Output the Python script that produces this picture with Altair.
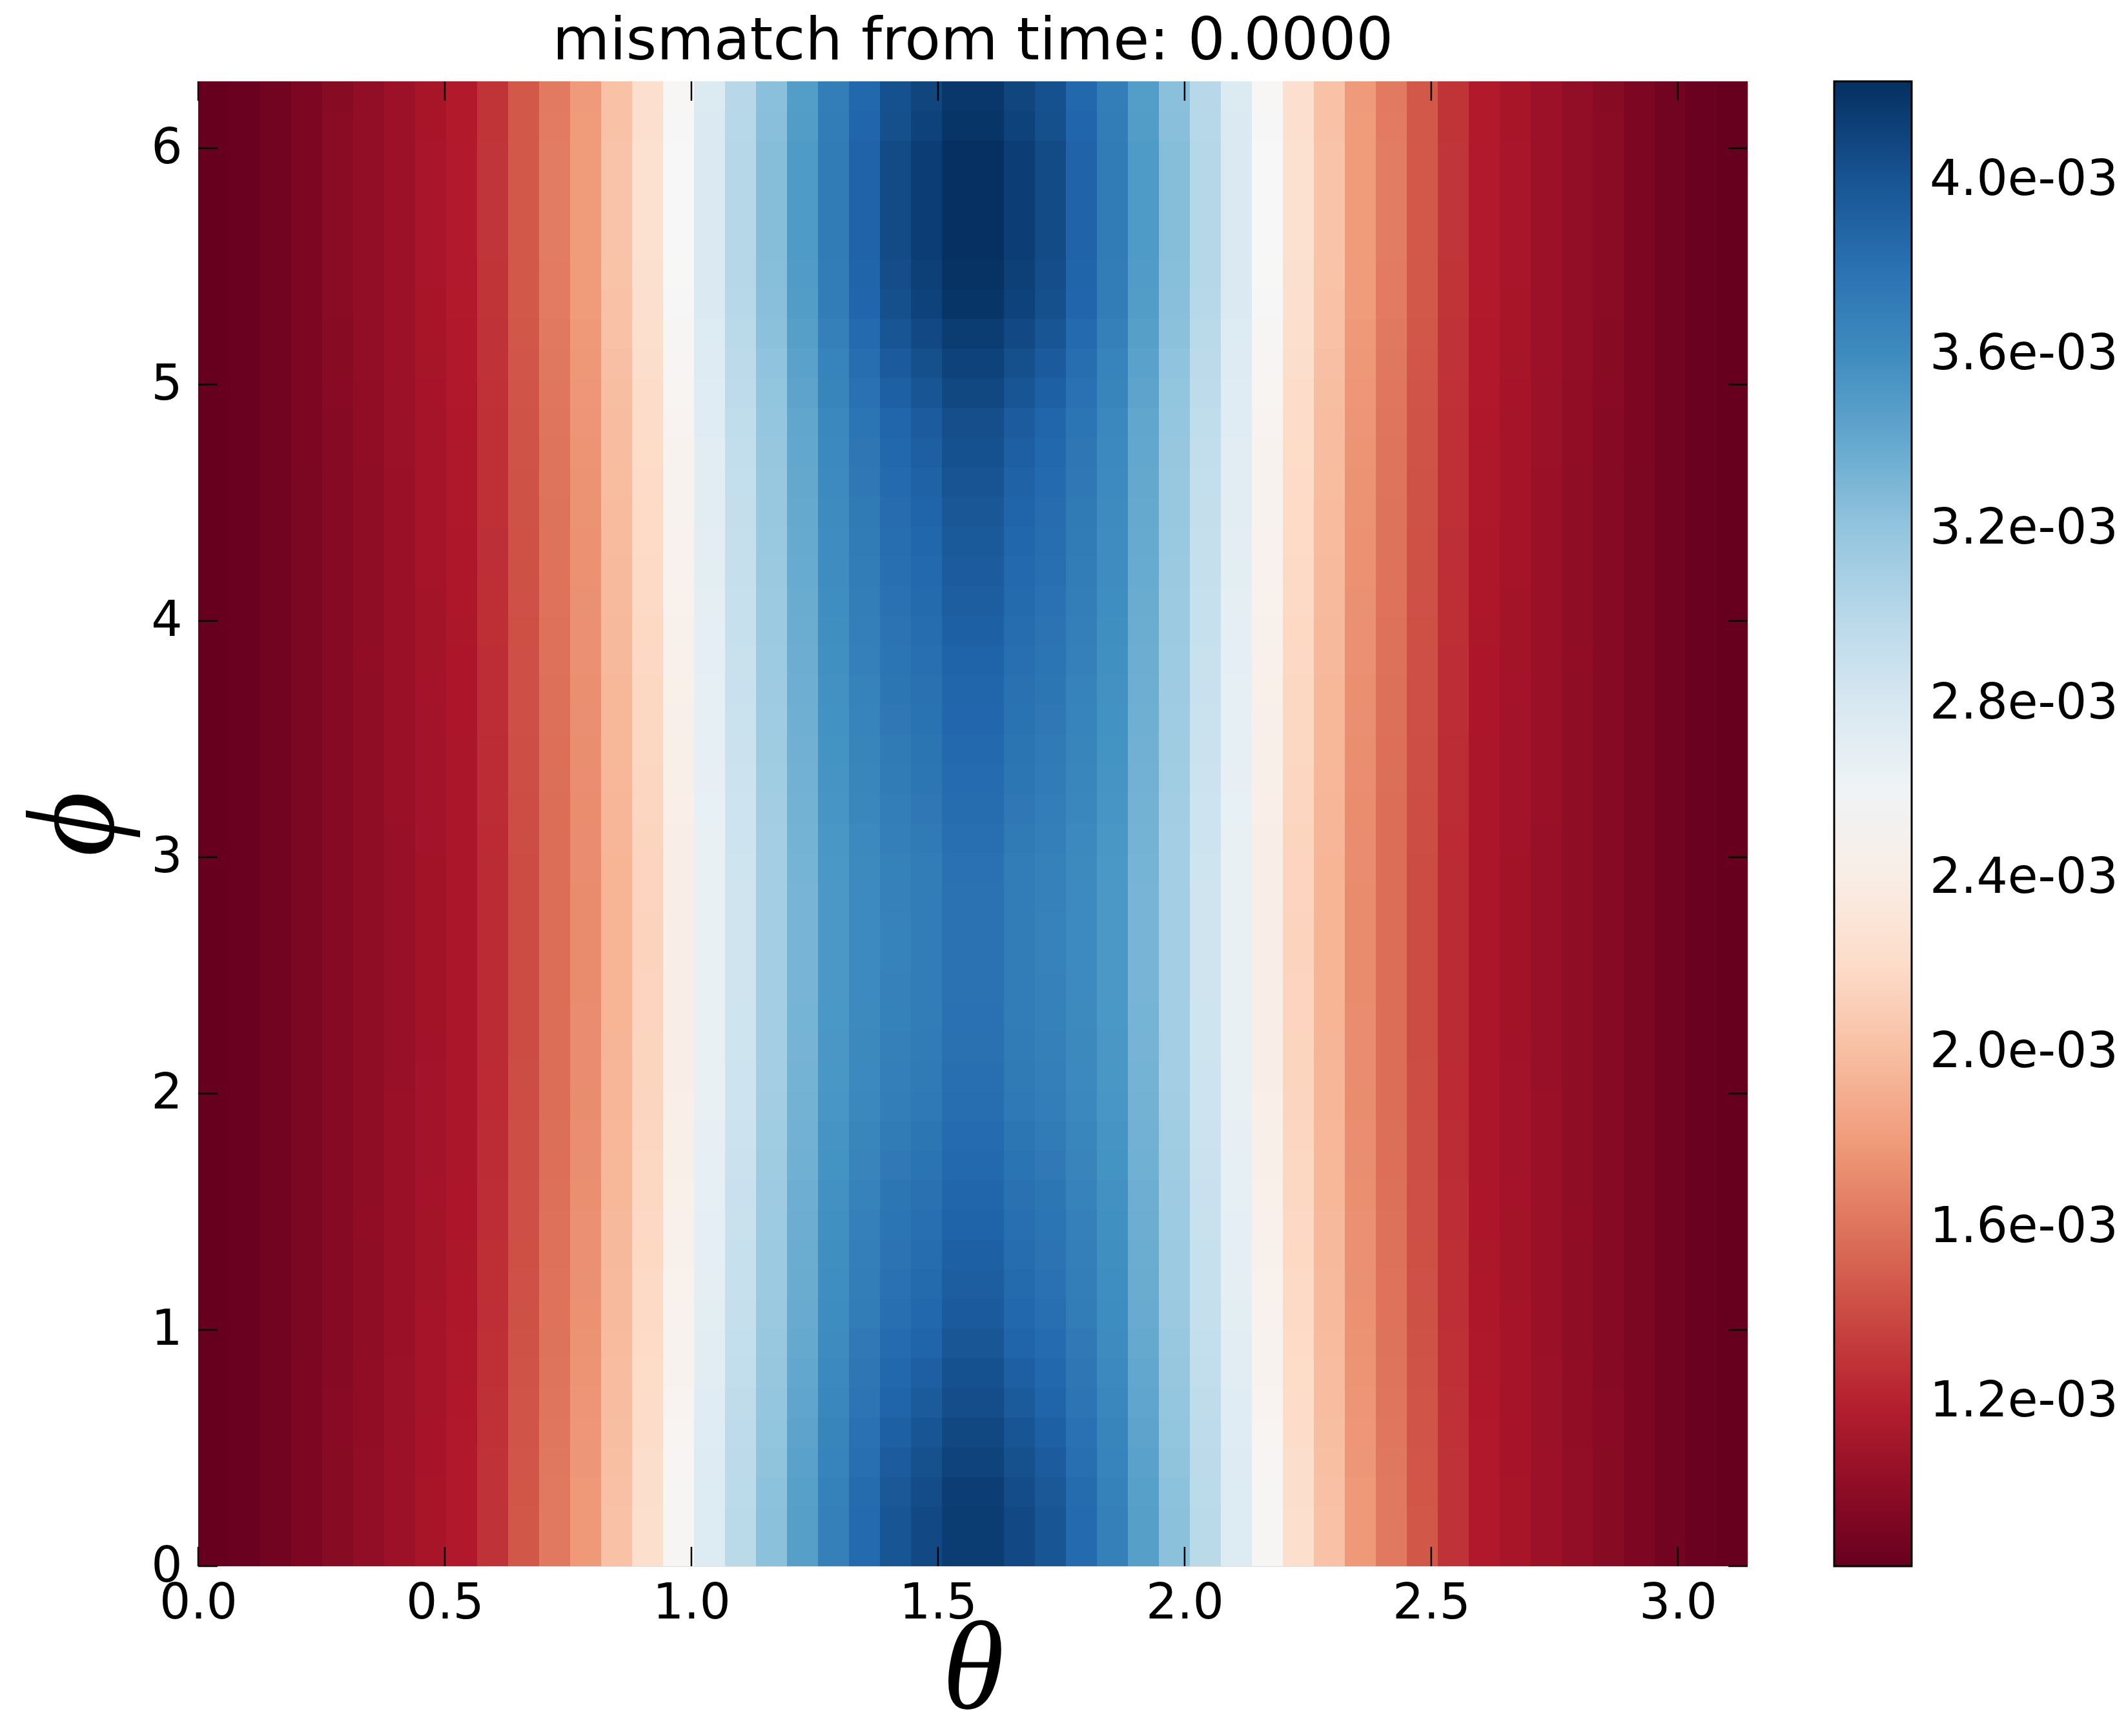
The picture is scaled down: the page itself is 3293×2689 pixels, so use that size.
import math
import altair as alt
import pandas as pd

TITLE = "mismatch from time: 0.0000"
N_THETA = 50
N_PHI = 50

# mismatch (x1e-3) of each theta column, left to right, at the phi rows where it peaks
theta_profile = [
    0.823, 0.843, 0.877, 0.925, 0.976, 1.020, 1.068, 1.122, 1.170, 1.299,
    1.470, 1.640, 1.800, 2.034, 2.245, 2.525, 2.783, 3.015, 3.256, 3.494,
    3.726, 3.903, 4.056, 4.141, 4.226, 4.226, 4.141, 4.056, 3.903, 3.726,
    3.494, 3.256, 3.015, 2.783, 2.525, 2.245, 2.034, 1.800, 1.640, 1.470,
    1.299, 1.170, 1.122, 1.068, 1.020, 0.976, 0.925, 0.877, 0.843, 0.823,
]
# share of the phi dip that each theta column shows
phi_weight = [
    0.00, 0.00, 0.01, 0.02, 0.03, 0.04, 0.05, 0.07, 0.09, 0.11,
    0.14, 0.17, 0.19, 0.21, 0.24, 0.27, 0.30, 0.32, 0.35, 0.40,
    0.50, 0.68, 0.88, 1.00, 1.00, 1.00, 1.00, 0.88, 0.68, 0.50,
    0.40, 0.35, 0.32, 0.30, 0.27, 0.24, 0.21, 0.19, 0.17, 0.14,
    0.11, 0.09, 0.07, 0.05, 0.04, 0.03, 0.02, 0.01, 0.00, 0.00,
]
# dip (x1e-3) of the central columns for each phi row, bottom (phi=0) to top
phi_dip = [
    0.075, 0.075, 0.090, 0.120, 0.150, 0.180, 0.210, 0.240, 0.270, 0.290,
    0.305, 0.320, 0.335, 0.360, 0.380, 0.400, 0.410, 0.420, 0.425, 0.428,
    0.430, 0.430, 0.428, 0.425, 0.410, 0.395, 0.380, 0.365, 0.350, 0.335,
    0.320, 0.305, 0.290, 0.275, 0.260, 0.245, 0.230, 0.210, 0.190, 0.150,
    0.115, 0.075, 0.030, 0.015, 0.000, 0.000, 0.000, 0.000, 0.030, 0.045,
]

theta_ticks = [0.0, 0.5, 1.0, 1.5, 2.0, 2.5, 3.0]
phi_ticks = [0, 1, 2, 3, 4, 5, 6]
cbar_ticks = [0.0012, 0.0016, 0.0020, 0.0024, 0.0028, 0.0032, 0.0036, 0.0040]
VMIN = 0.000823
VMAX = 0.004226
RDBU = ["#67001f", "#b2182b", "#d6604d", "#f4a582", "#fddbc7", "#f7f7f7",
        "#d1e5f0", "#92c5de", "#4393c3", "#2166ac", "#053061"]

rows = []
for i in range(N_THETA):
    for j in range(N_PHI):
        v = max(theta_profile[i] - phi_weight[i] * phi_dip[j], theta_profile[0]) * 1e-3
        rows.append({
            "t0": i * math.pi / N_THETA, "t1": (i + 1) * math.pi / N_THETA,
            "p0": j * 2 * math.pi / N_PHI, "p1": (j + 1) * 2 * math.pi / N_PHI,
            "v": v,
        })
df = pd.DataFrame(rows)

W, H = 2400, 2300
TICK = 30
CB_OFFSET = 134
CB_WIDTH = 120
FONT = "DejaVu Sans"
MATH_FONT = "Liberation Serif"

xscale = alt.Scale(domain=[0, math.pi], nice=False, zero=False)
yscale = alt.Scale(domain=[0, 2 * math.pi], nice=False, zero=False)
cdomain = [VMIN + k * (VMAX - VMIN) / 10 for k in range(11)]
cscale = alt.Scale(domain=cdomain, range=RDBU, interpolate="rgb")

heat = alt.Chart(df).mark_rect().encode(
    x=alt.X("t0:Q", scale=xscale, axis=alt.Axis(
        values=theta_ticks, format=".1f", title="θ", ticks=False, tickSize=0,
        domain=False, grid=False, labelFontSize=76, labelFont=FONT, labelColor="black",
        labelPadding=20, labelFlush=False, labelOverlap=False,
        titleFont=MATH_FONT, titleFontStyle="italic", titleFontWeight="normal",
        titleFontSize=195, titleColor="black", titleBaseline="middle", titleY=160)),
    x2="t1:Q",
    y=alt.Y("p0:Q", scale=yscale, axis=alt.Axis(
        values=phi_ticks, format="d", title="ϕ", ticks=False, tickSize=0,
        domain=False, grid=False, labelFontSize=76, labelFont=FONT, labelColor="black",
        labelPadding=25, labelFlush=False, labelOverlap=False,
        titleFont=MATH_FONT, titleFontStyle="italic", titleFontWeight="normal",
        titleFontSize=195, titleColor="black", titleBaseline="middle", titleAngle=270,
        titleX=-192)),
    y2="p1:Q",
    color=alt.Color("v:Q", scale=cscale, legend=alt.Legend(
        title=None, orient="right", offset=CB_OFFSET, padding=0, direction="vertical",
        gradientLength=H, gradientThickness=CB_WIDTH, gradientStrokeColor="black",
        gradientStrokeWidth=3, values=cbar_ticks,
        labelExpr="replace(format(datum.value, '.1e'), 'e-', 'e-0')",
        labelFontSize=76, labelFont=FONT, labelColor="black", labelOffset=28,
        labelOverlap=False, labelLimit=1000)),
)

xt = pd.DataFrame({"t0": theta_ticks})
yt = pd.DataFrame({"p0": phi_ticks})
ct = pd.DataFrame({"c": cbar_ticks})
rule_style = dict(color="black", strokeWidth=2.5)

bottom_ticks = alt.Chart(xt).mark_rule(**rule_style).encode(
    x=alt.X("t0:Q", scale=xscale), y=alt.value(H), y2=alt.value(H - TICK))
top_ticks = alt.Chart(xt).mark_rule(**rule_style).encode(
    x=alt.X("t0:Q", scale=xscale), y=alt.value(0), y2=alt.value(TICK))
left_ticks = alt.Chart(yt).mark_rule(**rule_style).encode(
    y=alt.Y("p0:Q", scale=yscale), x=alt.value(0), x2=alt.value(TICK))
right_ticks = alt.Chart(yt).mark_rule(**rule_style).encode(
    y=alt.Y("p0:Q", scale=yscale), x=alt.value(W), x2=alt.value(W - TICK))

plot = alt.layer(heat, bottom_ticks, top_ticks, left_ticks, right_ticks)

cbar_right = W + CB_OFFSET + CB_WIDTH
cbar_ticks_layer = alt.Chart(ct).mark_rule(**rule_style).encode(
    y=alt.Y("c:Q", scale=alt.Scale(domain=[VMIN, VMAX], nice=False, zero=False), axis=None),
    x=alt.value(cbar_right - 26), x2=alt.value(cbar_right - 2))

chart = alt.layer(plot, cbar_ticks_layer).resolve_scale(y="independent").properties(
    width=W, height=H,
    title=alt.TitleParams(TITLE, fontSize=91, font=FONT, fontWeight="normal",
                          color="black", anchor="middle", frame="group",
                          baseline="alphabetic", offset=31, dy=89),
    padding={"left": 307, "top": 126, "right": 586, "bottom": 263},
    autosize=alt.AutoSizeParams(type="none"),
).configure_view(
    stroke="black", strokeWidth=4
).configure_legend(
    gradientVerticalMaxLength=H
).configure(background="white")

chart.save("out.html", embed_options={"renderer": "svg", "actions": False})
